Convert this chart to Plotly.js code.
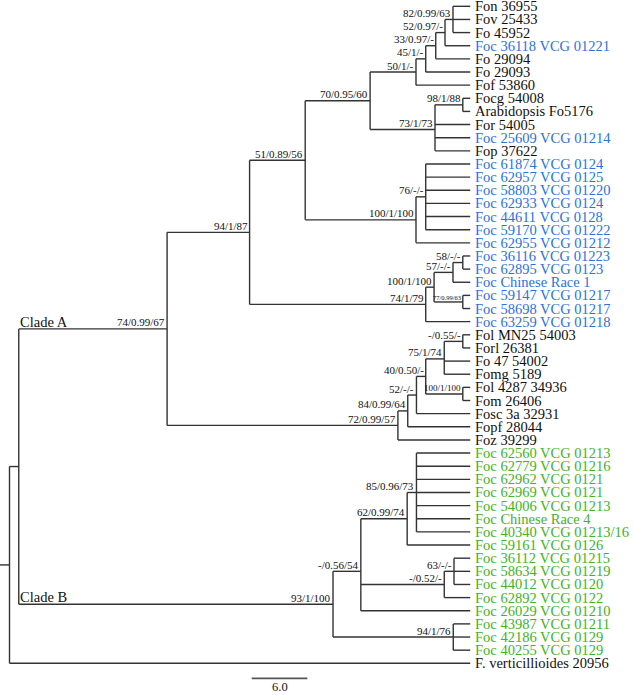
<!DOCTYPE html>
<html>
<head>
<meta charset="utf-8">
<script src="https://cdn.plot.ly/plotly-3.0.1.min.js"></script>
<style>html,body{margin:0;padding:0;background:#fff}#chart{width:634px;height:695px}</style>
</head>
<body>
<div id="chart"></div>
<script>
// ---- DATA ----
const tipLabels = [
  "Fon 36955","Fov 25433","Fo 45952","Foc 36118 VCG 01221","Fo 29094","Fo 29093","Fof 53860",
  "Focg 54008","Arabidopsis Fo5176","For 54005","Foc 25609 VCG 01214","Fop 37622",
  "Foc 61874 VCG 0124","Foc 62957 VCG 0125","Foc 58803 VCG 01220","Foc 62933 VCG 0124",
  "Foc 44611 VCG 0128","Foc 59170 VCG 01222","Foc 62955 VCG 01212",
  "Foc 36116 VCG 01223","Foc 62895 VCG 0123","Foc Chinese Race 1","Foc 59147 VCG 01217",
  "Foc 58698 VCG 01217","Foc 63259 VCG 01218",
  "Fol MN25 54003","Forl 26381","Fo 47 54002","Fomg 5189","Fol 4287 34936","Fom 26406",
  "Fosc 3a 32931","Fopf 28044","Foz 39299",
  "Foc 62560 VCG 01213","Foc 62779 VCG 01216","Foc 62962 VCG 0121","Foc 62969 VCG 0121",
  "Foc 54006 VCG 01213","Foc Chinese Race 4","Foc 40340 VCG 01213/16","Foc 59161 VCG 0126",
  "Foc 36112 VCG 01215","Foc 58634 VCG 01219","Foc 44012 VCG 0120","Foc 62892 VCG 0122",
  "Foc 26029 VCG 01210","Foc 43987 VCG 01211","Foc 42186 VCG 0129","Foc 40255 VCG 0129",
  "F. verticillioides 20956"
];
// 0 = other formae speciales, 1 = Foc clade A, 2 = Foc clade B
const tipGroup = [0,0,0,1,0,0,0, 0,0,0,1,0, 1,1,1,1,1,1,1, 1,1,1,1,1,1, 0,0,0,0,0,0,0,0,0,
  2,2,2,2,2,2,2,2, 2,2,2,2,2,2,2,2, 0];
const tipParent = [10,10,10,9,8,7,6, 12,12,11,11,11, 14,14,14,14,14,14,13, 18,18,17,19,19,15,
  25,25,24,24,26,26,22,21,20, 30,30,30,30,30,30,30,29, 32,32,32,31,28,33,33,33, 0];
const tipDepth = 49.7;

const nodeSupport = ["","","74/0.99/67","94/1/87","51/0.89/56","70/0.95/60","50/1/-","45/1/-",
  "33/0.97/-","52/0.97/-","82/0.99/63","73/1/73","98/1/88","100/1/100","76/-/-","74/1/79",
  "100/1/100","57/-/-","58/-/-","77/0.99/63","72/0.99/57","84/0.99/64","52/-/-","40/0.50/-",
  "75/1/74","-/0.55/-","100/1/100","93/1/100","-/0.56/54","62/0.99/74","85/0.96/73",
  "-/0.52/-","63/-/-","94/1/76"];
const nodeParent = [-1,0,1,2,3,4,5,6,7,8,9,5,11,4,13,3,15,16,17,16,2,20,21,22,23,24,23,1,27,28,29,28,31,27];
const nodeDepth = [0,1.0,17.0,25.9,31.9,38.9,43.85,44.9,45.98,46.98,47.84,45.9,48.9,43.85,44.9,44.9,
  45.8,47.84,48.9,48.9,41.9,42.96,43.9,44.9,46.9,48.9,48.9,34.9,37.9,42.9,43.9,46.9,47.95,47.87];

const cladeNames = ["Clade A","Clade B"];
const cladeNodes = [2,27];
const scaleLength = 6.0;
const scaleLabel = "6.0";

// ---- LAYOUT / COMPUTE ----
const groupColor = ["#111111","#2a72de","#40b424"];
const lineColor = "#333333";
const serif = "Liberation Serif, Times New Roman, serif";
const nN = nodeDepth.length;
const children = Array.from({length:nN},()=>[]);
const nodeY = new Array(nN).fill(0);
tipParent.forEach((p,i)=>children[p].push({y:i, x:tipDepth}));
for (let n = nN-1; n >= 0; n--) {
  const ys = children[n].map(c=>c.y);
  nodeY[n] = ys.reduce((a,b)=>a+b,0)/ys.length;
  if (nodeParent[n] >= 0) children[nodeParent[n]].push({y:nodeY[n], x:nodeDepth[n]});
}
const X0 = -1.025, X1 = X0 + 634/9.27;
const Ytop = -0.48, Ybot = Ytop + 695/13.14;

const ex = [], ey = [];
function seg(x1,y1,x2,y2){ ex.push(x1,x2,null); ey.push(y1,y2,null); }
tipParent.forEach((p,i)=>seg(nodeDepth[p], i, tipDepth, i));
for (let n = 0; n < nN; n++) {
  const p = nodeParent[n];
  if (p >= 0) seg(nodeDepth[p], nodeY[n], nodeDepth[n], nodeY[n]);
  else seg(X0, nodeY[n], nodeDepth[n], nodeY[n]);
  const ys = children[n].map(c=>c.y);
  seg(nodeDepth[n], Math.min(...ys), nodeDepth[n], Math.max(...ys));
}
const scaleY = 51.15, scaleX = 26.13;
const traces = [
  {x:ex, y:ey, mode:'lines', line:{color:lineColor, width:1.4}, hoverinfo:'skip', showlegend:false},
  {x:[scaleX, scaleX+scaleLength], y:[scaleY, scaleY], mode:'lines', line:{color:'#555', width:1.6}, hoverinfo:'skip', showlegend:false}
];

const ann = [];
tipLabels.forEach((t,i)=>ann.push({x:tipDepth, y:i, text:t, xanchor:'left', yanchor:'middle', xshift:4,
  borderpad:0, showarrow:false, font:{family:serif, size:14.5, color:groupColor[tipGroup[i]]}}));
const sizeOverride = {19:6.5, 26:9};
nodeSupport.forEach((s,n)=>{ if(!s) return;
  ann.push({x:nodeDepth[n], y:nodeY[n], text:s, xanchor:'right', yanchor:'bottom', xshift:-1, yshift:-0.5,
    borderpad:0, showarrow:false, font:{family:serif, size:sizeOverride[n]||11, color:'#111'}});
});
cladeNames.forEach((c,k)=>ann.push({x:nodeDepth[1], y:nodeY[cladeNodes[k]], text:c, xanchor:'left', yanchor:'bottom',
  xshift:0, yshift:-2, borderpad:0, showarrow:false, font:{family:serif, size:14.5, color:'#111'}}));
ann.push({x:scaleX+scaleLength/2, y:scaleY, text:scaleLabel, xanchor:'center', yanchor:'top', yshift:-1,
  borderpad:0, showarrow:false, font:{family:serif, size:12.5, color:'#111'}});

Plotly.newPlot('chart', traces, {
  width:634, height:695, margin:{l:0,r:0,t:0,b:0}, paper_bgcolor:'#fff', plot_bgcolor:'#fff',
  xaxis:{range:[X0,X1], visible:false, fixedrange:true},
  yaxis:{range:[Ybot,Ytop], visible:false, fixedrange:true},
  annotations:ann, showlegend:false
}, {staticPlot:true});
</script>
</body>
</html>
